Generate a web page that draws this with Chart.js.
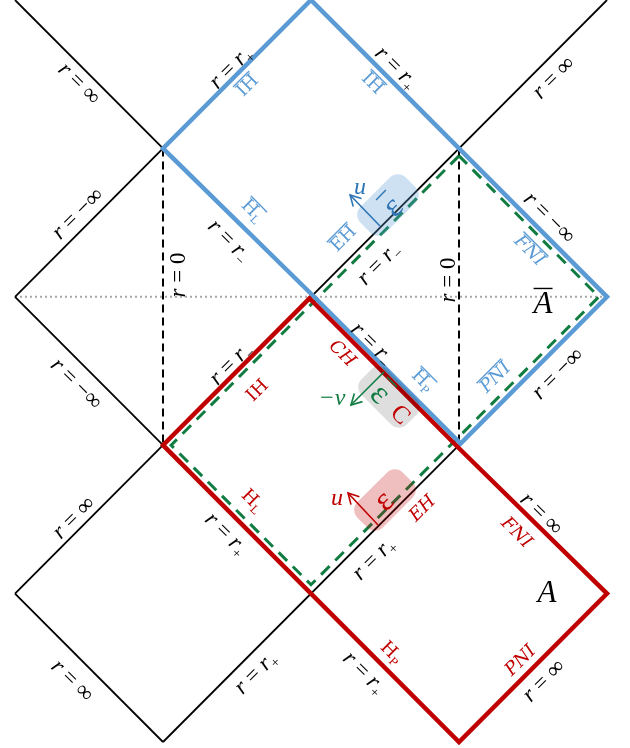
<!DOCTYPE html>
<html><head><meta charset="utf-8">
<script src="https://cdn.jsdelivr.net/npm/chart.js@4.4.1/dist/chart.umd.min.js"></script>
<style>html,body{margin:0;padding:0;background:#fff;}#wrap{width:630px;height:748px;position:relative;}</style>
</head><body><div id="wrap"><canvas id="c"></canvas></div>
<script>
// ---- diagram data (diagram units) ----
const blueRegion = [[2,0],[1,1],[2,2],[3,3],[4,2],[2,0]];
const redRegion = [[2,2],[1,3],[3,5],[4,4],[3,3],[2,2]];
const greenRegion = [[3,1.05],[1.055,3],[2,3.94],[3.945,2],[3,1.05]];
const blackBoundaries = [[[0,0],[1,1]],[[1,1],[0,2]],[[0,2],[1,3]],[[1,3],[0,4]],[[0,4],[1,5]],[[1,5],[3,3]],[[2,2],[4,0]]];
const originLines = [[[1,1],[1,3]],[[3,1],[3,3]]];
const equator = [[0,2],[4,2]];
const arrowFrom = [[2.466,1.523],[2.493,2.507],[2.453,3.538]];
const arrowTo = [[2.264,1.314],[2.270,2.729],[2.250,3.322]];
const arrowColors = ['#2e75b6','#107c41','#c00000'];
// black "r = ..." labels: x, y, angle, right-hand side
const blackLabels = [
 [0.439,0.559,45,'∞'],[1.453,0.451,-45,'r+'],[2.581,0.451,45,'r+'],[3.635,0.519,-45,'∞'],
 [0.419,1.435,-45,'−∞'],[1.095,1.853,-90,'0'],[1.453,1.617,45,'r−'],[2.453,1.772,-45,'r−'],
 [2.919,1.887,-90,'0'],[3.615,1.462,45,'−∞'],[0.419,2.581,45,'−∞'],[1.453,2.446,-45,'r−'],
 [2.419,2.311,45,'r−'],[3.662,2.513,-45,'−∞'],[0.392,3.484,-45,'∞'],[1.432,3.592,45,'r+'],
 [2.419,3.760,-45,'r+'],[3.561,3.457,45,'∞'],[0.392,4.582,45,'∞'],[1.622,4.528,-45,'r+'],
 [2.365,4.528,45,'r+'],[3.568,4.582,-45,'∞']
];
// horizon labels: x, y, angle, text, subscript, italic
const blueLabels = [
 [1.568,0.573,-45,'IH','',false],[2.419,0.559,45,'IH','',false],[1.608,1.415,45,'H','L',false],
 [2.216,1.604,-45,'EH','',false],[3.480,1.685,45,'FNI','',true],[2.757,2.561,45,'H','P',false],
 [3.243,2.540,-45,'PNI','',true]
];
const redLabels = [
 [1.635,2.628,-45,'IH','',false],[2.216,2.379,45,'CH','',true],[1.608,3.369,45,'H','L',false],
 [2.750,3.423,-45,'EH','',true],[3.392,3.585,45,'FNI','',true],[2.547,4.394,45,'H','P',false],
 [3.412,4.447,-45,'PNI','',true]
];
const regionLabels = [[3.568,2.042,'A',true],[3.595,3.989,'A',false]];
// shaded boxes: centre x, y, angle
const boxCentres = [[2.520,1.381,-45],[2.527,2.675,45],[2.500,3.369,-45]];
const boxColors = ['rgba(91,155,213,0.3)','rgba(0,0,0,0.13)','rgba(192,0,0,0.25)'];
// small labels near arrows: x, y, angle, text, colour, italic, overline, size
const markLabels = [
 [2.331,1.253,0,'u','#2e75b6',true,false,24],[2.547,1.388,-45,'ε','#2e75b6',false,true,33],
 [2.142,2.675,0,'−v','#107c41',true,false,24],[2.473,2.648,45,'ε','#107c41',false,true,33],
 [2.608,2.790,45,'C','#c00000',false,false,25],
 [2.176,3.349,0,'u','#c00000',true,false,24],[2.486,3.369,-45,'ε','#c00000',false,false,33]
];

const BLUE='#5b9bd5', RED='#c00000', GREEN='#107c41';
const SERIF='"Liberation Serif","DejaVu Serif",serif';
const SERIF2='"DejaVu Serif","Liberation Serif",serif';
const S=[-0.0105,0.0104];
function pts(a){return a.map(p=>({x:p[0],y:p[1]}));}
function shifted(a,idx,sgn){return a.map((p,i)=>idx.includes(i)?{x:p[0]+sgn*S[0],y:p[1]+sgn*S[1]}:{x:p[0],y:p[1]});}

const ds=[];
function add(d){d.showLine=true;d.pointRadius=0;d.fill=false;d.tension=0;ds.push(d);}
add({data:pts(equator),borderColor:'#a6a6a6',borderWidth:2,borderDash:[2,3]});
blackBoundaries.forEach(s=>add({data:pts(s),borderColor:'#000',borderWidth:1.8}));
originLines.forEach(s=>add({data:pts(s),borderColor:'#000',borderWidth:2,borderDash:[8,5]}));
add({data:pts(greenRegion),borderColor:GREEN,borderWidth:3,borderDash:[12,8]});
add({data:shifted(blueRegion,[2,3],-1),borderColor:BLUE,borderWidth:4.5,borderCapStyle:'square',borderJoinStyle:'miter'});
add({data:shifted(redRegion,[0,4,5],1),borderColor:RED,borderWidth:4.5,borderCapStyle:'square',borderJoinStyle:'miter'});
const firstArrow=ds.length;
arrowFrom.forEach((f,i)=>add({data:pts([f,arrowTo[i]]),borderColor:arrowColors[i],borderWidth:1.6}));
ds.forEach((d,i)=>d.order=-i);

function font(sz,it,fam){return (it?'italic ':'')+sz+'px '+(fam||SERIF);}
function drawRuns(ctx,runs,x,y,ang,color,size,over,fam){
  ctx.save();ctx.translate(x,y);ctx.rotate(ang*Math.PI/180);
  ctx.fillStyle=color;ctx.strokeStyle=color;ctx.textBaseline='alphabetic';ctx.textAlign='left';
  let w=0;const ws=[];
  runs.forEach(r=>{const sz=r.sub?size*0.62:size;ctx.font=font(sz,r.it,fam);const m=ctx.measureText(r.t).width;ws.push(m);w+=m;});
  let cx=-w/2;const base=size*0.33;
  runs.forEach((r,i)=>{const sz=r.sub?size*0.62:size;ctx.font=font(sz,r.it,fam);ctx.fillText(r.t,cx,base+(r.sub?size*0.2:0));cx+=ws[i];});
  if(over){ctx.lineWidth=1.4;ctx.beginPath();const oy=base-size*0.8;ctx.moveTo(-w/2,oy);ctx.lineTo(w/2,oy);ctx.stroke();}
  ctx.restore();
}
const overlay={id:'overlay',
 beforeDatasetDraw(chart,args){
  if(args.index!==firstArrow)return;
  const ctx=chart.ctx,xs=chart.scales.x,ys=chart.scales.y;
  boxCentres.forEach((b,i)=>{
    ctx.save();ctx.translate(xs.getPixelForValue(b[0]),ys.getPixelForValue(b[1]));ctx.rotate(b[2]*Math.PI/180);
    ctx.fillStyle=boxColors[i];ctx.beginPath();ctx.roundRect(-32,-18,64,36,11);ctx.fill();ctx.restore();
  });
 },
 afterDatasetsDraw(chart){
  const ctx=chart.ctx,xs=chart.scales.x,ys=chart.scales.y;
  const X=v=>xs.getPixelForValue(v),Y=v=>ys.getPixelForValue(v);
  arrowFrom.forEach((f,i)=>{
    const x0=X(f[0]),y0=Y(f[1]),x1=X(arrowTo[i][0]),y1=Y(arrowTo[i][1]);
    const a=Math.atan2(y1-y0,x1-x0),L=12,sp=0.5;
    ctx.save();ctx.strokeStyle=arrowColors[i];ctx.lineWidth=1.6;ctx.beginPath();
    ctx.moveTo(x1-L*Math.cos(a-sp),y1-L*Math.sin(a-sp));ctx.lineTo(x1,y1);
    ctx.lineTo(x1-L*Math.cos(a+sp),y1-L*Math.sin(a+sp));ctx.stroke();ctx.restore();
  });
  blackLabels.forEach(l=>{
    const runs=[{t:'r',it:true},{t:' = '}];
    if(l[3][0]==='r'){runs.push({t:'r',it:true});runs.push({t:l[3][1]==='+'?'+':'−',sub:true});}
    else runs.push({t:l[3]});
    drawRuns(ctx,runs,X(l[0]),Y(l[1]),l[2],'#000',23,false);
  });
  const hl=(arr,col,over)=>arr.forEach(l=>{
    const runs=[{t:l[3],it:l[5]}];if(l[4])runs.push({t:l[4],sub:true,it:l[5]});
    drawRuns(ctx,runs,X(l[0]),Y(l[1]),l[2],col,18,over,SERIF2);
  });
  hl(blueLabels,BLUE,true);hl(redLabels,RED,false);
  regionLabels.forEach(l=>drawRuns(ctx,[{t:l[2],it:true}],X(l[0]),Y(l[1]),0,'#000',31,l[3]));
  markLabels.forEach(l=>drawRuns(ctx,[{t:l[3],it:l[5]}],X(l[0]),Y(l[1]),l[2],l[4],l[7],l[6]));
 }};
new Chart(document.getElementById('c'),{type:'scatter',data:{datasets:ds},
 options:{responsive:true,maintainAspectRatio:false,animation:false,layout:{padding:0},
  plugins:{legend:{display:false},tooltip:{enabled:false}},
  scales:{x:{type:'linear',min:-15/148,max:615/148,display:false},y:{type:'linear',min:0,max:748/148.4,reverse:true,display:false}}},
 plugins:[overlay]});
</script></body></html>
